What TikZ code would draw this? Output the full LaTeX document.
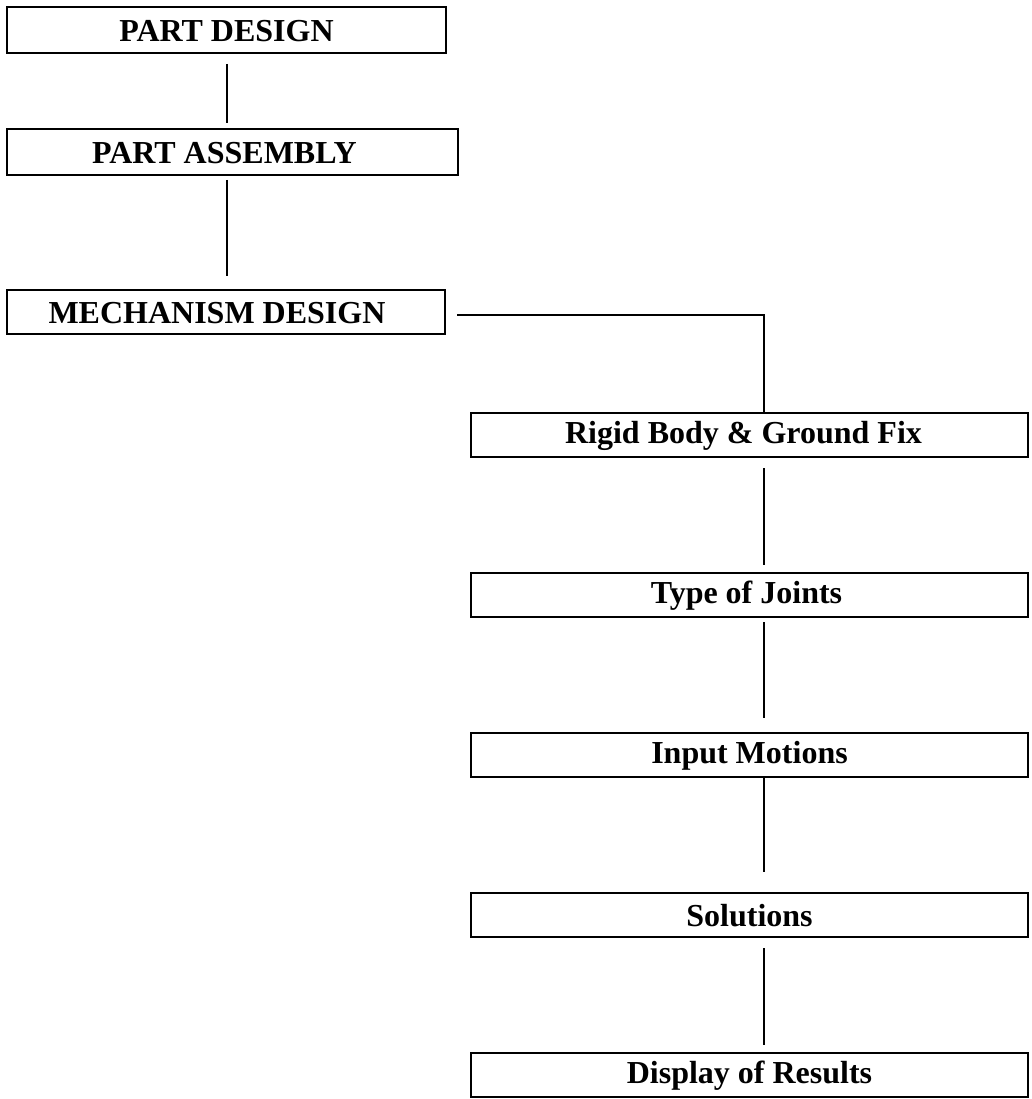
\documentclass[tikz,border=0pt]{standalone}
\usepackage{fontspec}
\setmainfont{Liberation Serif}
\begin{document}
\begin{tikzpicture}[x=1pt,y=-1pt,
  box/.style={draw,line width=1.8pt,rectangle,inner sep=0pt,outer sep=0pt},
  lbl/.style={font=\fontsize{32}{38}\selectfont\bfseries,inner sep=0pt},
  conn/.style={line width=1.3pt}]
\useasboundingbox[fill=white] (0,0) rectangle (1031,1099);
% left column boxes
\node[box,minimum width=439pt,minimum height=46pt] (PD) at (226.5,30) {};
\node[box,minimum width=451pt,minimum height=46pt] (PA) at (232.5,152) {};
\node[box,minimum width=438pt,minimum height=44pt] (MD) at (226,312) {};
% right column boxes
\node[box,minimum width=557pt,minimum height=44pt] (RB) at (749.5,435) {};
\node[box,minimum width=557pt,minimum height=44pt] (TJ) at (749.5,595) {};
\node[box,minimum width=557pt,minimum height=44pt] (IM) at (749.5,755) {};
\node[box,minimum width=557pt,minimum height=44pt] (SO) at (749.5,915) {};
\node[box,minimum width=557pt,minimum height=44pt] (DR) at (749.5,1075) {};
% labels
\node[lbl] (tPD) at ([yshift=-1pt]PD.center) {PART DESIGN};
\node[lbl] (tPA) at ([xshift=-8pt,yshift=-1pt]PA.center) {PART ASSEMBLY};
\node[lbl] (tMD) at ([xshift=-9pt,yshift=-1pt]MD.center) {MECHANISM DESIGN};
\node[lbl] (tRB) at ([xshift=-6pt,yshift=-1pt]RB.center) {Rigid Body \& Ground Fix};
\node[lbl] (tTJ) at ([xshift=-3pt,yshift=-1pt]TJ.center) {Type of Joints};
\node[lbl] (tIM) at ([yshift=-1pt]IM.center) {Input Motions};
\node[lbl] (tSO) at ([yshift=-1pt]SO.center) {Solutions};
\node[lbl] (tDR) at ([yshift=-1pt]DR.center) {Display of Results};
% connector columns
\coordinate (cl) at (227,0);
\coordinate (cr) at (764,0);
\draw[conn,shorten <=11pt,shorten >=6pt] (PD.south -| cl) -- (PA.north -| cl);
\draw[conn,shorten <=5pt,shorten >=14pt] (PA.south -| cl) -- (MD.north -| cl);
\draw[conn,shorten <=12pt] ([yshift=-3pt]MD.east) -| (RB.north -| cr);
\draw[conn,shorten <=11pt,shorten >=8pt] (RB.south -| cr) -- (TJ.north -| cr);
\draw[conn,shorten <=5pt,shorten >=15pt] (TJ.south -| cr) -- (IM.north -| cr);
\draw[conn,shorten >=21pt] (IM.south -| cr) -- (SO.north -| cr);
\draw[conn,shorten <=11pt,shorten >=8pt] (SO.south -| cr) -- (DR.north -| cr);
\end{tikzpicture}
\end{document}
